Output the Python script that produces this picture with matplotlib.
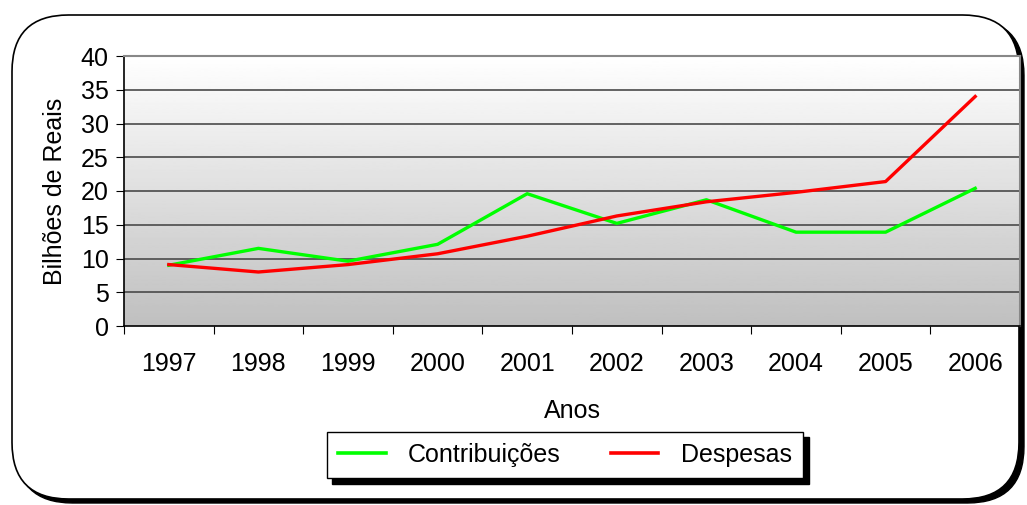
import numpy as np
import matplotlib
matplotlib.use("Agg")
import matplotlib.pyplot as plt
from matplotlib.patches import FancyBboxPatch
from matplotlib.lines import Line2D

plt.rcParams['font.family'] = ['Liberation Sans', 'DejaVu Sans']

anos = ['1997', '1998', '1999', '2000', '2001', '2002', '2003', '2004', '2005', '2006']
contribuicoes = [9.0, 11.5, 9.6, 12.1, 19.6, 15.2, 18.7, 13.9, 13.9, 20.4]
despesas = [9.1, 8.0, 9.1, 10.7, 13.3, 16.3, 18.4, 19.8, 21.4, 34.0]
yticks = [0, 5, 10, 15, 20, 25, 30, 35, 40]

fig = plt.figure(figsize=(10.27, 5.05), dpi=100)

# moldura arredondada com sombra (coordenadas em pixels)
W, H = 1027, 505
def fx(p): return p / W
def fy(p): return 1 - p / H

shadow = FancyBboxPatch((fx(16), fy(503)), fx(1008), fy(19) - fy(503),
                        boxstyle="round,pad=0,rounding_size=0.055", transform=fig.transFigure,
                        facecolor='black', edgecolor='black', lw=1, zorder=0, mutation_aspect=W / H)
fig.patches.append(shadow)
frame = FancyBboxPatch((fx(12), fy(499)), fx(1007), fy(15) - fy(499),
                       boxstyle="round,pad=0,rounding_size=0.055", transform=fig.transFigure,
                       facecolor='white', edgecolor='black', lw=1.2, zorder=1, mutation_aspect=W / H)
fig.patches.append(frame)

ax = fig.add_axes([fx(124), fy(326), fx(1020) - fx(124), fy(56) - fy(326)])
ax.set_zorder(2)
x = np.arange(len(anos))
ax.set_xlim(-0.5, len(anos) - 0.5)
ax.set_ylim(0, 40)

# fundo em degradê
grad = np.linspace(1.0, 0.75, 256).reshape(-1, 1)
ax.imshow(grad, cmap='gray', vmin=0, vmax=1, aspect='auto',
          extent=[-0.5, len(anos) - 0.5, 0, 40], zorder=0)

for v in yticks[1:]:
    ax.axhline(v, color='#4a4a4a', lw=1.2, zorder=1)

ax.plot(x, contribuicoes, color='#00ff00', lw=2.4, zorder=3, label='Contribuições')
ax.plot(x, despesas, color='#ff0000', lw=2.4, zorder=4, label='Despesas')

ax.set_yticks(yticks)
ax.set_xticks(np.arange(-0.5, len(anos), 1.0))
ax.set_xticklabels([])
ax.set_xticks(x, minor=True)
ax.set_xticklabels(anos, minor=True)
ax.tick_params(axis='x', which='major', direction='out', length=6, color='black')
ax.tick_params(axis='x', which='minor', length=0, pad=19, labelsize=18)
ax.tick_params(axis='y', direction='out', length=6, labelsize=18, pad=5)

for s in ['left', 'bottom']:
    ax.spines[s].set_color('black')
    ax.spines[s].set_linewidth(1.2)
for s in ['top', 'right']:
    ax.spines[s].set_color('#888888')
    ax.spines[s].set_linewidth(1.5)

ax.set_xlabel('Anos', fontsize=18, labelpad=16)
ax.set_ylabel('Bilhões de Reais', fontsize=18, labelpad=10)

handles = [Line2D([], [], color='#00ff00', lw=2.6), Line2D([], [], color='#ff0000', lw=2.6)]
leg = fig.legend(handles, ['Contribuições', 'Despesas'], loc='center',
                 bbox_to_anchor=(fx(565), fy(455)), ncol=2, fontsize=18,
                 handlelength=1.9, handletextpad=0.9, columnspacing=2.0,
                 borderpad=0.45, fancybox=False, framealpha=1, edgecolor='black',
                 shadow={'color': 'black', 'alpha': 1, 'ox': 4, 'oy': -4})
leg.get_frame().set_linewidth(1.0)

fig.savefig('out.png', dpi=100)
